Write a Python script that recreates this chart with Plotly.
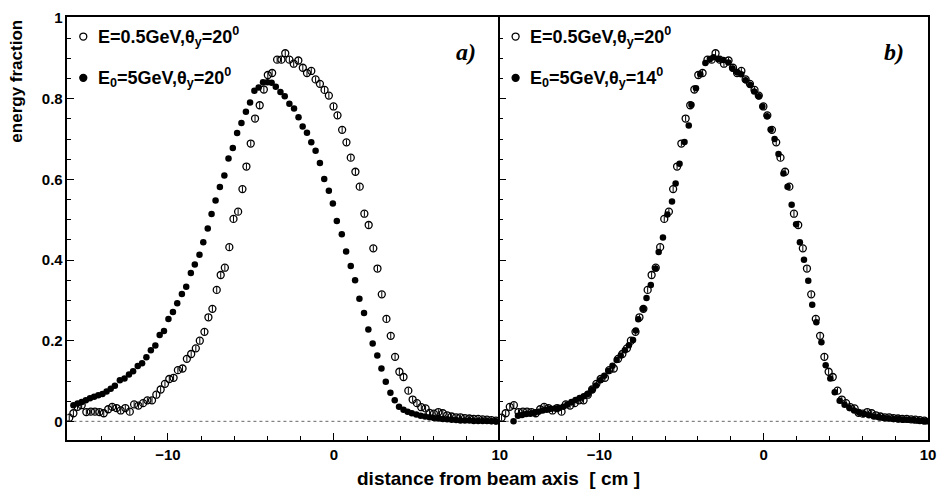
import plotly.graph_objects as go

# ---- measured energy-fraction profiles ----
# E = 0.5 GeV, theta_y = 20 deg (open circles, shown in both panels)
x_low = [-15.95, -15.70, -15.45, -15.20, -14.92, -14.65, -14.40, -14.13, -13.87, -13.60,
         -13.36, -13.10, -12.85, -12.57, -12.30, -12.04, -11.78, -11.50, -11.24, -10.96,
         -10.70, -10.44, -10.18, -9.92, -9.66, -9.40, -9.12, -8.86, -8.60, -8.32,
         -8.08, -7.80, -7.56, -7.32, -7.06, -6.82, -6.57, -6.30, -6.05, -5.77,
         -5.51, -5.27, -5.01, -4.75, -4.47, -4.22, -3.98, -3.72, -3.42, -3.16,
         -2.93, -2.68, -2.42, -2.14, -1.87, -1.62, -1.36, -1.10, -0.84, -0.56,
         -0.30, -0.02, 0.22, 0.50, 0.76, 1.02, 1.30, 1.56, 1.84, 2.10,
         2.38, 2.63, 2.89, 3.17, 3.43, 3.69, 3.95, 4.20, 4.49, 4.75,
         5.01, 5.27, 5.53, 5.77, 6.03, 6.30, 6.57, 6.83, 7.10, 7.37,
         7.63, 7.90, 8.17, 8.43, 8.70, 8.97, 9.23, 9.50, 9.77]
y_low = [0.009, 0.020, 0.036, 0.040, 0.023, 0.024, 0.024, 0.023, 0.020, 0.030,
         0.036, 0.033, 0.027, 0.033, 0.024, 0.042, 0.039, 0.045, 0.052, 0.052,
         0.066, 0.079, 0.093, 0.105, 0.108, 0.127, 0.131, 0.155, 0.167, 0.181,
         0.200, 0.222, 0.258, 0.279, 0.326, 0.363, 0.381, 0.432, 0.502, 0.520,
         0.576, 0.632, 0.689, 0.751, 0.784, 0.823, 0.859, 0.864, 0.897, 0.897,
         0.913, 0.897, 0.887, 0.895, 0.877, 0.864, 0.869, 0.848, 0.837, 0.822,
         0.808, 0.781, 0.759, 0.723, 0.692, 0.654, 0.619, 0.582, 0.515, 0.487,
         0.429, 0.379, 0.315, 0.254, 0.212, 0.160, 0.123, 0.110, 0.076, 0.054,
         0.045, 0.035, 0.032, 0.021, 0.019, 0.023, 0.020, 0.015, 0.012, 0.010,
         0.010, 0.008, 0.007, 0.006, 0.006, 0.005, 0.004, 0.003, 0.002]

# E0 = 5 GeV, theta_y = 20 deg (filled circles, panel a)
x_a = [-15.70, -15.45, -15.20, -14.95, -14.70, -14.45, -14.20, -13.95, -13.70, -13.45,
       -13.20, -12.90, -12.62, -12.35, -12.10, -11.82, -11.56, -11.30, -11.03, -10.76,
       -10.50, -10.24, -9.97, -9.70, -9.44, -9.16, -8.90, -8.62, -8.38, -8.10,
       -7.87, -7.60, -7.37, -7.13, -6.87, -6.60, -6.35, -6.09, -5.83, -5.57,
       -5.30, -5.05, -4.79, -4.53, -4.27, -4.00, -3.75, -3.50, -3.22, -2.96,
       -2.68, -2.40, -2.13, -1.88, -1.62, -1.36, -1.10, -0.84, -0.58, -0.30,
       -0.06, 0.18, 0.48, 0.74, 1.02, 1.28, 1.54, 1.82, 2.08, 2.34,
       2.62, 2.87, 3.13, 3.41, 3.67, 3.93, 4.20, 4.45, 4.70, 4.97,
       5.23, 5.50, 5.77, 6.03, 6.30, 6.57, 6.83, 7.10, 7.37, 7.63,
       7.90, 8.17, 8.43, 8.70, 8.97, 9.23, 9.50, 9.77]
y_a = [0.040, 0.044, 0.048, 0.052, 0.057, 0.061, 0.065, 0.068, 0.074, 0.081,
       0.088, 0.102, 0.106, 0.116, 0.124, 0.137, 0.144, 0.159, 0.176, 0.188,
       0.214, 0.224, 0.254, 0.271, 0.293, 0.316, 0.334, 0.368, 0.389, 0.413,
       0.444, 0.478, 0.514, 0.548, 0.581, 0.610, 0.652, 0.678, 0.715, 0.740,
       0.768, 0.791, 0.820, 0.828, 0.841, 0.841, 0.840, 0.830, 0.817, 0.806,
       0.788, 0.776, 0.754, 0.731, 0.716, 0.692, 0.671, 0.641, 0.601, 0.572,
       0.540, 0.497, 0.464, 0.421, 0.385, 0.350, 0.304, 0.269, 0.228, 0.193,
       0.163, 0.131, 0.098, 0.071, 0.052, 0.036, 0.029, 0.024, 0.020, 0.017,
       0.014, 0.012, 0.010, 0.008, 0.007, 0.006, 0.005, 0.004, 0.003, 0.002,
       0.002, 0.002, 0.001, 0.001, 0.001, 0.001, 0.000, 0.000]

# E0 = 5 GeV, theta_y = 14 deg (filled circles, panel b)
x_b = [-15.22, -14.95, -14.70, -14.45, -14.20, -13.95, -13.70, -13.45, -13.20, -12.95,
       -12.70, -12.45, -12.20, -11.95, -11.70, -11.45, -11.20, -10.95, -10.70, -10.45,
       -10.20, -9.95, -9.70, -9.45, -9.20, -8.95, -8.70, -8.45, -8.20, -7.95,
       -7.78, -7.63, -7.33, -7.13, -6.87, -6.58, -6.39, -6.13, -5.86, -5.58,
       -5.36, -5.12, -4.82, -4.56, -4.40, -4.12, -3.86, -3.55, -3.28, -3.05,
       -2.75, -2.45, -2.15, -1.90, -1.62, -1.37, -1.10, -0.82, -0.58, -0.30,
       -0.08, 0.20, 0.42, 0.66, 0.90, 1.20, 1.45, 1.70, 1.97, 2.20,
       2.45, 2.71, 2.95, 3.20, 3.51, 3.77, 4.05, 4.32, 4.62, 4.92,
       5.22, 5.50, 5.80, 6.10, 6.40, 6.70, 7.00, 7.30, 7.60, 7.90,
       8.20, 8.50, 8.80, 9.10, 9.40, 9.70, 9.90]
y_b = [0.000, 0.014, 0.016, 0.018, 0.019, 0.021, 0.024, 0.027, 0.029, 0.031,
       0.032, 0.033, 0.036, 0.042, 0.048, 0.053, 0.058, 0.062, 0.068, 0.078,
       0.089, 0.102, 0.113, 0.125, 0.138, 0.152, 0.163, 0.176, 0.189, 0.202,
       0.225, 0.253, 0.279, 0.306, 0.338, 0.379, 0.420, 0.456, 0.513, 0.545,
       0.590, 0.639, 0.693, 0.734, 0.785, 0.826, 0.861, 0.889, 0.899, 0.903,
       0.899, 0.896, 0.890, 0.875, 0.866, 0.861, 0.846, 0.834, 0.818, 0.806,
       0.781, 0.757, 0.724, 0.700, 0.663, 0.615, 0.582, 0.537, 0.489, 0.444,
       0.401, 0.349, 0.289, 0.246, 0.196, 0.139, 0.106, 0.072, 0.051, 0.041,
       0.033, 0.027, 0.022, 0.018, 0.015, 0.012, 0.010, 0.008, 0.007, 0.006,
       0.005, 0.004, 0.004, 0.003, 0.002, 0.001, 0.000]

x_ticks = [-10, 0, 10]
y_ticks = [0, 0.2, 0.4, 0.6, 0.8, 1]

W, H = 946, 493
FONT = "Liberation Sans"


def px(v):
    return v / W


def py(v):
    return 1 - v / H


open_marker = dict(symbol="circle-open", size=7, color="black", line=dict(width=1.3))
full_marker = dict(symbol="circle", size=6.5, color="black")
err = dict(type="constant", value=0.007, thickness=1, width=0, color="black")

fig = go.Figure()
fig.add_trace(go.Scatter(x=x_low, y=y_low, mode="markers", marker=open_marker,
                         error_y=err, xaxis="x", yaxis="y", showlegend=False))
fig.add_trace(go.Scatter(x=x_a, y=y_a, mode="markers", marker=full_marker,
                         xaxis="x", yaxis="y", showlegend=False))
fig.add_trace(go.Scatter(x=x_low, y=y_low, mode="markers", marker=open_marker,
                         error_y=err, xaxis="x2", yaxis="y2", showlegend=False))
fig.add_trace(go.Scatter(x=x_b, y=y_b, mode="markers", marker=full_marker,
                         xaxis="x2", yaxis="y2", showlegend=False))

xr = [-16.06, 10]
yr = [-0.046, 1.002]
ydom = [py(439), py(9.5)]

axis_common = dict(showline=True, linecolor="black", linewidth=1.5,
                   ticks="inside", tickcolor="black", showgrid=False, zeroline=False,
                   tickfont=dict(family=FONT, size=15, color="black", weight="bold"))
x_minor = dict(ticks="inside", dtick=2, tick0=0, ticklen=4, tickcolor="black")
y_minor = dict(ticks="inside", dtick=0.05, tick0=0, ticklen=4, tickcolor="black")

fig.update_layout(
    width=W, height=H,
    margin=dict(l=0, r=0, t=0, b=0),
    paper_bgcolor="white", plot_bgcolor="white",
    xaxis=dict(domain=[px(68), px(504)], range=xr, tickvals=x_ticks, ticklen=7,
               minor=x_minor, anchor="y", mirror=True, **axis_common),
    # the shared divider is drawn by the right panel's y axis
    yaxis=dict(domain=ydom, range=yr, tickvals=y_ticks, ticklen=7,
               minor=y_minor, anchor="x", mirror=False, **axis_common),
    xaxis2=dict(domain=[px(504), px(936)], range=xr, tickvals=x_ticks, ticklen=7,
                minor=x_minor, anchor="y2", mirror=True, **axis_common),
    yaxis2=dict(domain=ydom, range=yr, tickvals=y_ticks, ticklen=7, showticklabels=False,
                minor=y_minor, anchor="x2", mirror=True, **axis_common),
)

# dotted zero reference in both panels
for xa, ya in (("x", "y"), ("x2", "y2")):
    fig.add_shape(type="line", xref=xa, yref=ya, x0=xr[0], x1=xr[1], y0=0, y1=0,
                  line=dict(color="#666666", width=1, dash="dot"), layer="below")

# legend entries drawn as markers + labels
label_font = dict(family=FONT, size=18, color="black", weight="bold")
legend_rows = [
    (84, 29, "open", "E=0.5GeV,θ<sub>y</sub>=20<sup>0</sup>"),
    (84, 71, "full", "E<sub>0</sub>=5GeV,θ<sub>y</sub>=20<sup>0</sup>"),
    (520, 29, "open", "E=0.5GeV,θ<sub>y</sub>=20<sup>0</sup>"),
    (520, 71, "full", "E<sub>0</sub>=5GeV,θ<sub>y</sub>=14<sup>0</sup>"),
]
for cx, cy, kind, text in legend_rows:
    fig.add_shape(type="circle", xref="paper", yref="paper",
                  xsizemode="pixel", ysizemode="pixel",
                  xanchor=px(cx), yanchor=py(cy), x0=-3.5, x1=3.5, y0=-3.5, y1=3.5,
                  line=dict(color="black", width=1.3),
                  fillcolor="black" if kind == "full" else "white")
    fig.add_annotation(xref="paper", yref="paper", x=px(cx + 13), y=py(cy),
                       xanchor="left", yanchor="middle", text=text, showarrow=False,
                       font=label_font)

# panel tags
for tx, tag in ((470, "a)"), (902, "b)")):
    fig.add_annotation(xref="paper", yref="paper", x=px(tx), y=py(45), text=f"<b><i>{tag}</i></b>",
                       showarrow=False, xanchor="center", yanchor="middle",
                       font=dict(family="Liberation Serif", size=24, color="black"))

# axis titles
fig.add_annotation(xref="paper", yref="paper", x=px(503), y=py(478),
                   text="distance from beam axis  [ cm ]", showarrow=False,
                   xanchor="center", yanchor="middle",
                   font=dict(family=FONT, size=19, color="black", weight="bold"))
fig.add_annotation(xref="paper", yref="paper", x=px(17), y=py(74),
                   text="energy fraction", showarrow=False, textangle=-90,
                   xanchor="center", yanchor="middle",
                   font=dict(family=FONT, size=17, color="black", weight="bold"))

fig.write_html("out.html")
